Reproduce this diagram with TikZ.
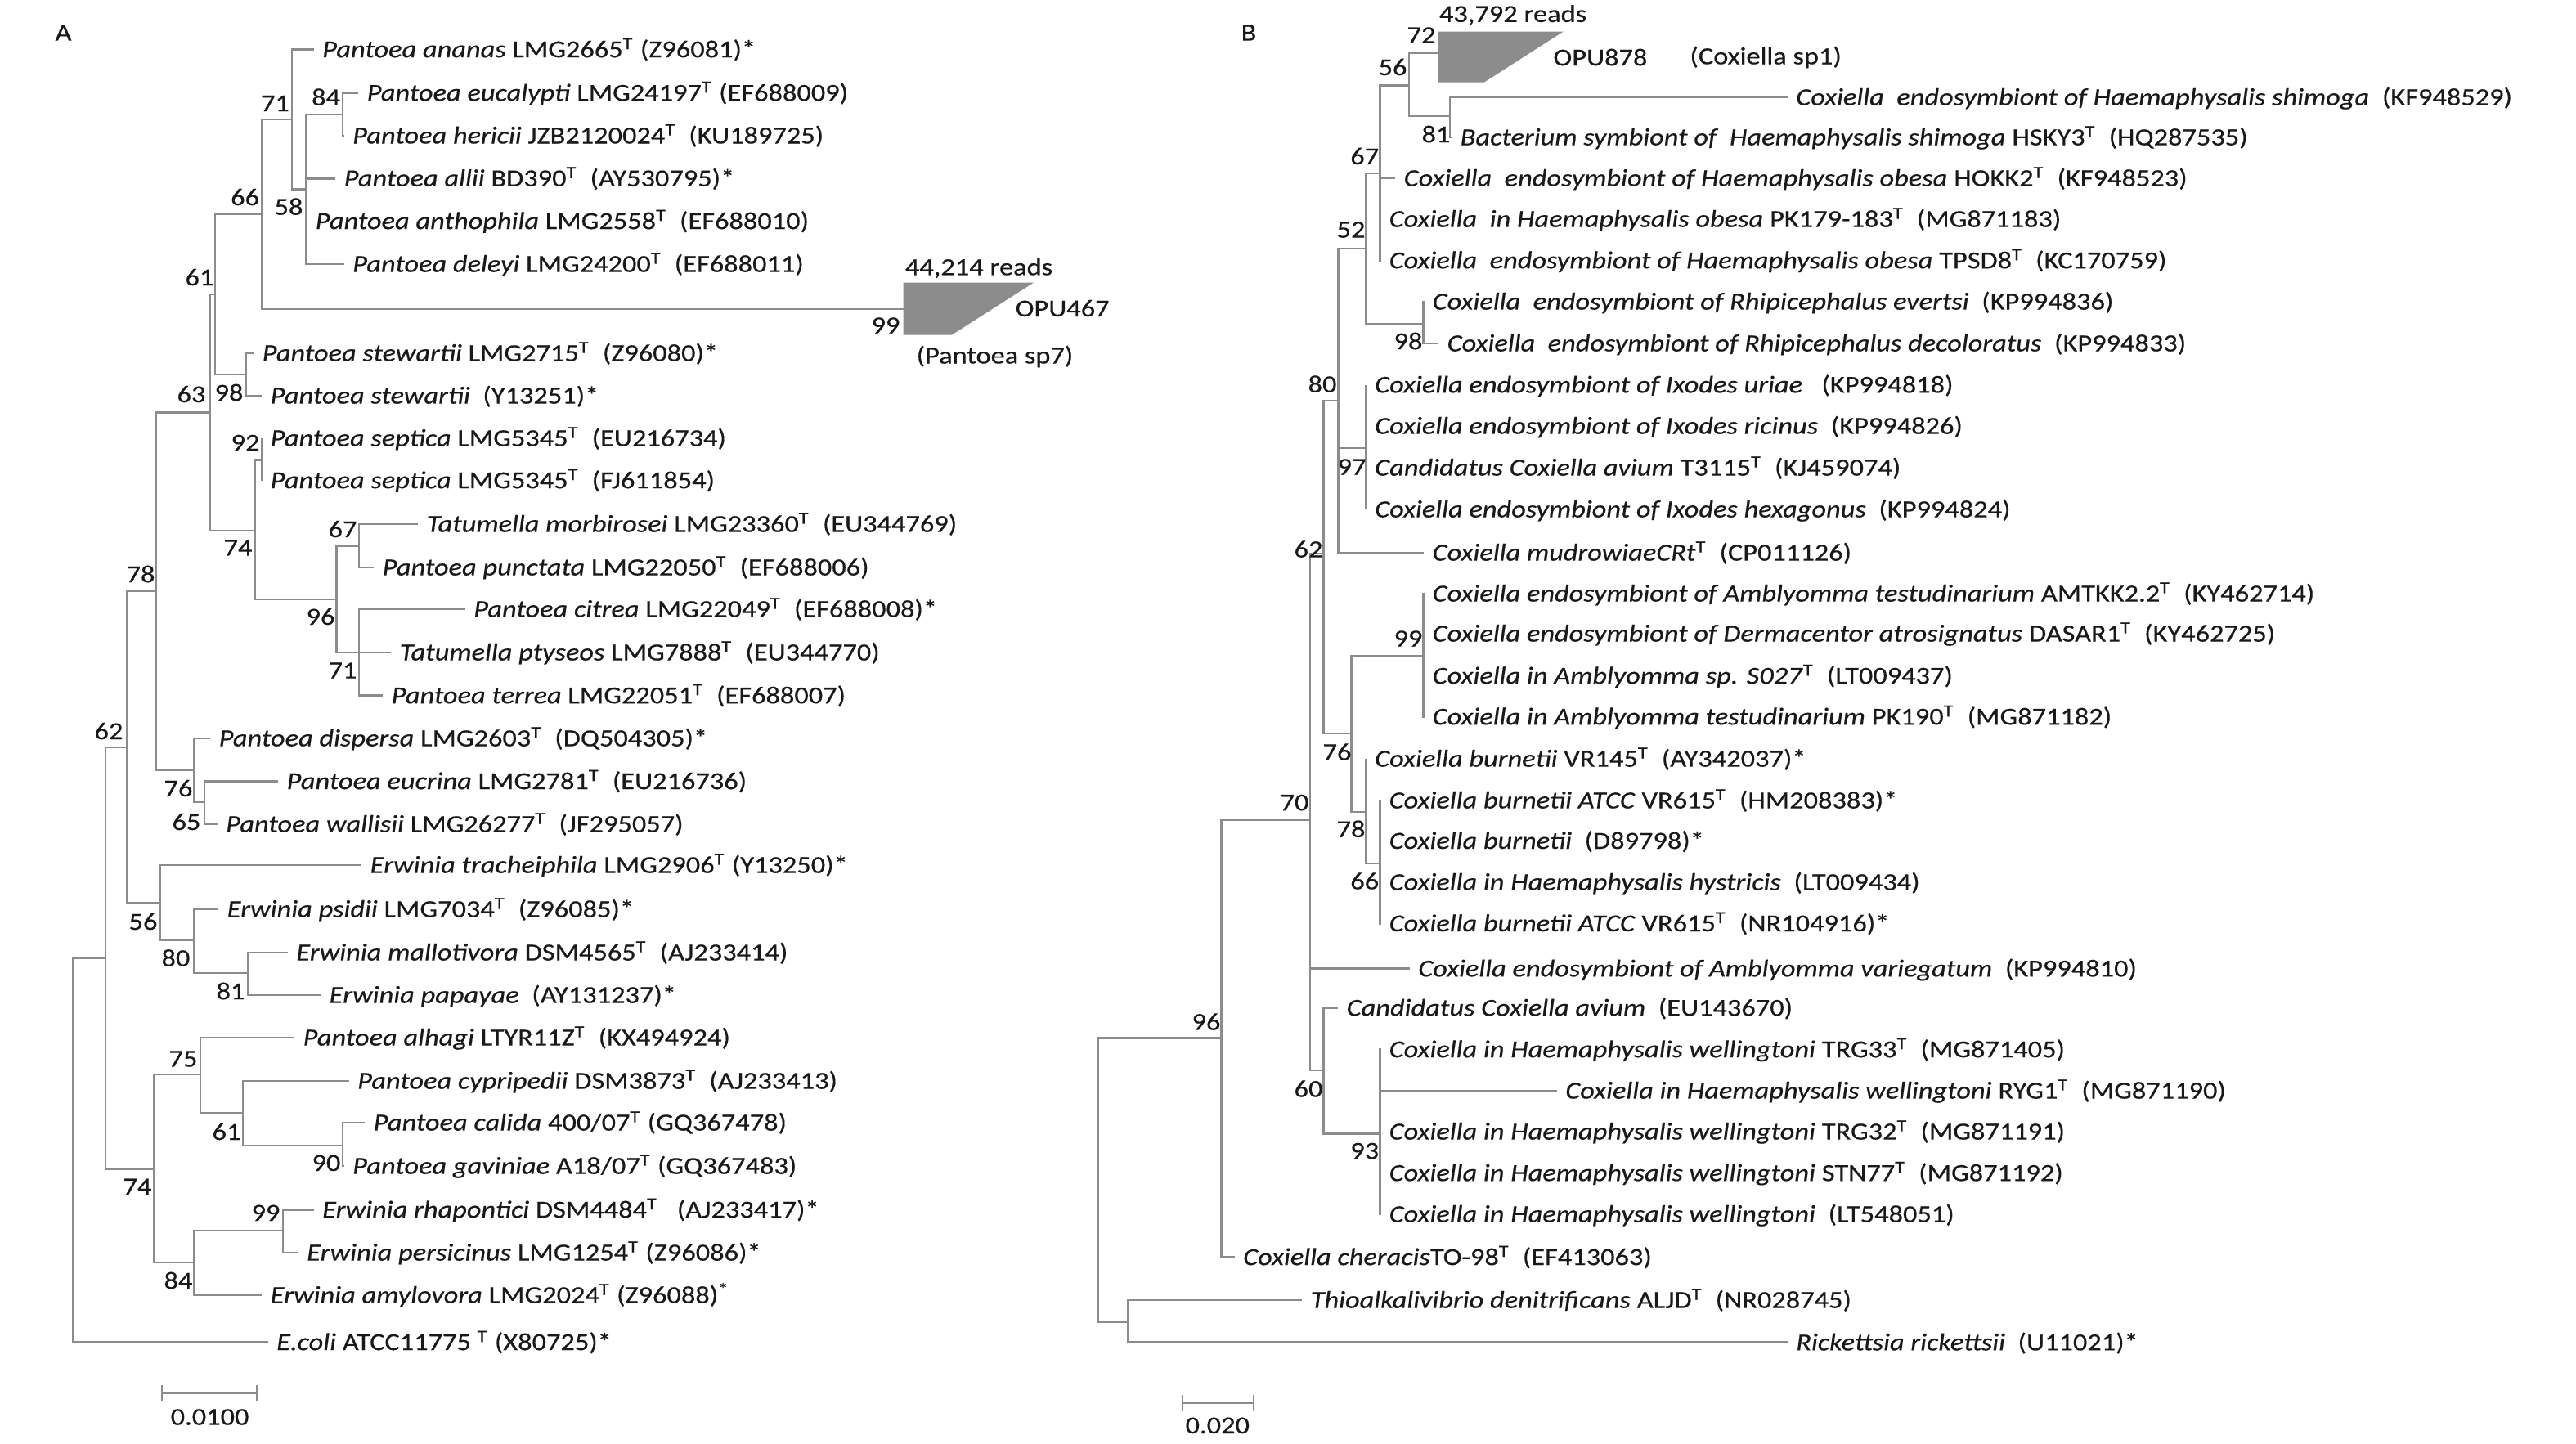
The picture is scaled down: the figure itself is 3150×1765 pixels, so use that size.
\documentclass[tikz,border=0pt]{standalone}
\usepackage{fontspec}
\setmainfont{Carlito}[FakeStretch=1.15,FakeBold=0.4]
\newcommand{\supT}{\textsuperscript{T}}
\definecolor{brc}{RGB}{140,140,140}
\definecolor{txc}{RGB}{25,25,25}
\definecolor{trapc}{RGB}{140,140,140}
\begin{document}
\begin{tikzpicture}[x=0.01cm,y=-0.01cm,
  br/.style={draw=brc, line width=0.8pt},
  lf/.style={anchor=base west, inner sep=0pt, xshift=0.1cm, yshift=-0.096cm, text=txc},
  bs/.style={inner sep=0pt, text=txc},
  every node/.append style={font=\fontsize{8.5pt}{10pt}\selectfont}]
\useasboundingbox (0,0) rectangle (3150,1765);

% ---------------- Panel A ----------------
\node[bs] (labA) at (77.5,40) {A};
\coordinate (rA) at (89,1400);
\coordinate (aX) at (129,1171.6);
\coordinate (a62) at (155,914);
\coordinate (a74b) at (188,1430);
\coordinate (a78) at (191,723);
\coordinate (a56) at (196,1104);
\coordinate (a63) at (257,504.4);
\coordinate (a76) at (237,942);
\coordinate (a61) at (263,360);
\coordinate (a74) at (312,649);
\coordinate (a66) at (320,262);
\coordinate (a98) at (301,458);
\coordinate (a71) at (357,146);
\coordinate (a58) at (374.5,231.5);
\coordinate (a84) at (419,140);
\coordinate (a92) at (320,562.6);
\coordinate (a96) at (411.5,733);
\coordinate (a67) at (439,668);
\coordinate (a71b) at (439,798);
\coordinate (a65) at (250,981);
\coordinate (a80) at (237,1150);
\coordinate (a81) at (303,1190);
\coordinate (a75) at (245,1314);
\coordinate (a61b) at (297,1361);
\coordinate (a90) at (419,1401);
\coordinate (a84b) at (237,1544);
\coordinate (a99) at (346,1505);
\coordinate (opuA) at (1104.6,378);

\coordinate (la0) at (383.5,60.5);
\coordinate (la1) at (438,113.7);
\coordinate (la2) at (420.5,165.9);
\coordinate (la3) at (410,218.2);
\coordinate (la4) at (375,270.5);
\coordinate (la5) at (420.5,323);
\coordinate (la7) at (310,432);
\coordinate (la8) at (320,484);
\coordinate (la9) at (320,536);
\coordinate (la10) at (320,587.5);
\coordinate (la11) at (511,641);
\coordinate (la12) at (457,694);
\coordinate (la13) at (568.5,745);
\coordinate (la14) at (478,798);
\coordinate (la15) at (468,850.6);
\coordinate (la16) at (257,903);
\coordinate (la17) at (340,955.5);
\coordinate (la18) at (265.5,1008);
\coordinate (la19) at (442,1058);
\coordinate (la20) at (267,1112);
\coordinate (la21) at (351.6,1165);
\coordinate (la22) at (392,1217);
\coordinate (la23) at (360,1269);
\coordinate (la24) at (426.5,1322);
\coordinate (la25) at (446,1373);
\coordinate (la26) at (420.5,1426);
\coordinate (la27) at (383.5,1479.5);
\coordinate (la28) at (364.5,1532);
\coordinate (la29) at (320,1584);
\coordinate (la30) at (327.5,1641.5);

\foreach \p/\c in {rA/aX, rA/la30, aX/a62, aX/a74b, a62/a78, a62/a56,
  a78/a63, a78/a76, a63/a61, a63/a74, a61/a66, a61/a98, a66/a71, a66/opuA,
  a71/la0, a71/a58, a58/a84, a58/la3, a58/la4, a58/la5, a84/la1, a84/la2,
  a98/la7, a98/la8, a74/a92, a74/a96, a92/la9, a92/la10, a96/a67, a96/a71b,
  a67/la11, a67/la12, a71b/la13, a71b/la14, a71b/la15, a76/la16, a76/a65,
  a65/la17, a65/la18, a56/la19, a56/a80, a80/la20, a80/a81, a81/la21, a81/la22,
  a74b/a75, a74b/a84b, a75/la23, a75/a61b, a61b/la24, a61b/a90, a90/la25, a90/la26,
  a84b/a99, a84b/la29, a99/la27, a99/la28}
  \draw[br] (\p) |- (\c);

\fill[trapc] (1104.6,345.6) -- (1264,345.6) -- (1164,409.5) -- (1104.6,409.5) -- cycle;
\node[bs] (readsA) at (1197,328) {44,214 reads};
\node[bs, anchor=west] (opuAt) at (1241,377) {OPU467};
\node[bs] (spA) at (1216.5,436) {(Pantoea sp7)};
\node[bs] (sA99) at (1083,398) {99};

\node[lf] (ta0) at (la0) {\textit{Pantoea ananas} LMG2665\supT{} (Z96081)*};
\node[lf] (ta1) at (la1) {\textit{Pantoea eucalypti} LMG24197\supT{} (EF688009)};
\node[lf] (ta2) at (la2) {\textit{Pantoea hericii} JZB2120024\supT\ \ (KU189725)};
\node[lf] (ta3) at (la3) {\textit{Pantoea allii} BD390\supT\ \ (AY530795)*};
\node[lf] (ta4) at (la4) {\textit{Pantoea anthophila} LMG2558\supT\ \ (EF688010)};
\node[lf] (ta5) at (la5) {\textit{Pantoea deleyi} LMG24200\supT\ \ (EF688011)};
\node[lf] (ta7) at (la7) {\textit{Pantoea stewartii} LMG2715\supT\ \ (Z96080)*};
\node[lf] (ta8) at (la8) {\textit{Pantoea stewartii}\ \ (Y13251)*};
\node[lf] (ta9) at (la9) {\textit{Pantoea septica} LMG5345\supT\ \ (EU216734)};
\node[lf] (ta10) at (la10) {\textit{Pantoea septica} LMG5345\supT\ \ (FJ611854)};
\node[lf] (ta11) at (la11) {\textit{Tatumella morbirosei} LMG23360\supT\ \ (EU344769)};
\node[lf] (ta12) at (la12) {\textit{Pantoea punctata} LMG22050\supT\ \ (EF688006)};
\node[lf] (ta13) at (la13) {\textit{Pantoea citrea} LMG22049\supT\ \ (EF688008)*};
\node[lf] (ta14) at (la14) {\textit{Tatumella ptyseos} LMG7888\supT\ \ (EU344770)};
\node[lf] (ta15) at (la15) {\textit{Pantoea terrea} LMG22051\supT\ \ (EF688007)};
\node[lf] (ta16) at (la16) {\textit{Pantoea dispersa} LMG2603\supT\ \ (DQ504305)*};
\node[lf] (ta17) at (la17) {\textit{Pantoea eucrina} LMG2781\supT\ \ (EU216736)};
\node[lf] (ta18) at (la18) {\textit{Pantoea wallisii} LMG26277\supT\ \ (JF295057)};
\node[lf] (ta19) at (la19) {\textit{Erwinia tracheiphila} LMG2906\supT{} (Y13250)*};
\node[lf] (ta20) at (la20) {\textit{Erwinia psidii} LMG7034\supT\ \ (Z96085)*};
\node[lf] (ta21) at (la21) {\textit{Erwinia mallotivora} DSM4565\supT\ \ (AJ233414)};
\node[lf] (ta22) at (la22) {\textit{Erwinia papayae}\ \ (AY131237)*};
\node[lf] (ta23) at (la23) {\textit{Pantoea alhagi} LTYR11Z\supT\ \ (KX494924)};
\node[lf] (ta24) at (la24) {\textit{Pantoea cypripedii} DSM3873\supT\ \ (AJ233413)};
\node[lf] (ta25) at (la25) {\textit{Pantoea calida} 400/07\supT{} (GQ367478)};
\node[lf] (ta26) at (la26) {\textit{Pantoea gaviniae} A18/07\supT{} (GQ367483)};
\node[lf] (ta27) at (la27) {\textit{Erwinia rhapontici} DSM4484\supT\ \ \ (AJ233417)*};
\node[lf] (ta28) at (la28) {\textit{Erwinia persicinus} LMG1254\supT{} (Z96086)*};
\node[lf] (ta29) at (la29) {\textit{Erwinia amylovora} LMG2024\supT{} (Z96088)\textsuperscript{*}};
\node[lf] (ta30) at (la30) {\textit{E.coli} ATCC11775 \supT{} (X80725)*};

\node[bs] (sa71) at (336.5,126.5) {71};
\node[bs] (sa84) at (398.6,118.6) {84};
\node[bs] (sa58) at (353,252.6) {58};
\node[bs] (sa66) at (299.6,241) {66};
\node[bs] (sa61) at (244,339) {61};
\node[bs] (sa98) at (280,480) {98};
\node[bs] (sa63) at (234,482) {63};
\node[bs] (sa92) at (300,541.5) {92};
\node[bs] (sa74) at (291,670) {74};
\node[bs] (sa78) at (172,702) {78};
\node[bs] (sa96) at (392,754) {96};
\node[bs] (sa67) at (419,647) {67};
\node[bs] (sa71b) at (419,820) {71};
\node[bs] (sa62) at (133,894) {62};
\node[bs] (sa76) at (218,964) {76};
\node[bs] (sa65) at (228,1005) {65};
\node[bs] (sa56) at (175,1127) {56};
\node[bs] (sa80) at (215,1171.5) {80};
\node[bs] (sa81) at (282,1212) {81};
\node[bs] (sa75) at (224,1295) {75};
\node[bs] (sa61b) at (277,1384) {61};
\node[bs] (sa90) at (399,1422.4) {90};
\node[bs] (sa74b) at (168,1451.3) {74};
\node[bs] (sa99) at (325,1483.3) {99};
\node[bs] (sa84b) at (218,1566) {84};

\coordinate (scA1) at (198,1704);
\coordinate (scA2) at (314,1704);
\draw[br] (scA1) -- (scA2);
\draw[br] ([yshift=-0.1cm]scA1) -- ([yshift=0.1cm]scA1);
\draw[br] ([yshift=-0.1cm]scA2) -- ([yshift=0.1cm]scA2);
\node[bs] (scAt) at (256.6,1733) {0.0100};

% ---------------- Panel B ----------------
\node[bs] (labB) at (1527,40) {B};
\coordinate (rB) at (1342.5,1443);
\coordinate (b96) at (1493.5,1269.4);
\coordinate (bTR) at (1379.6,1616.5);
\coordinate (b70) at (1602,1003);
\coordinate (b62) at (1618.6,677);
\coordinate (b60) at (1618.6,1309);
\coordinate (b80) at (1636.3,490);
\coordinate (b76) at (1652.8,897);
\coordinate (b52) at (1670.5,304);
\coordinate (b97) at (1670.5,548);
\coordinate (b67) at (1687.6,212);
\coordinate (b56) at (1723,104.5);
\coordinate (b81) at (1773,142);
\coordinate (b98) at (1740.7,396);
\coordinate (b99) at (1740.7,802.5);
\coordinate (b78) at (1670.5,993);
\coordinate (b66) at (1687.6,1056);
\coordinate (b93) at (1687.6,1386.8);
\coordinate (opuB) at (1758.4,65);

\coordinate (lb1) at (2185.6,119);
\coordinate (lb2) at (1775,168);
\coordinate (lb3) at (1706,218);
\coordinate (lb4) at (1688,268);
\coordinate (lb5) at (1688,318.6);
\coordinate (lb6) at (1741,369);
\coordinate (lb7) at (1759,420);
\coordinate (lb8) at (1670.5,470.7);
\coordinate (lb9) at (1670.5,521);
\coordinate (lb10) at (1670.5,572);
\coordinate (lb11) at (1670.5,623);
\coordinate (lb12) at (1741,676);
\coordinate (lb13) at (1741,726);
\coordinate (lb14) at (1741,775);
\coordinate (lb15) at (1741,826.6);
\coordinate (lb16) at (1741,876.6);
\coordinate (lb17) at (1670.5,928);
\coordinate (lb18) at (1688,979);
\coordinate (lb19) at (1688,1028.4);
\coordinate (lb20) at (1688,1079);
\coordinate (lb21) at (1688,1129.4);
\coordinate (lb22) at (1723.6,1184.7);
\coordinate (lb23) at (1636,1232.7);
\coordinate (lb24) at (1688,1283.5);
\coordinate (lb25) at (1903.6,1334);
\coordinate (lb26) at (1688,1384);
\coordinate (lb27) at (1688,1434.7);
\coordinate (lb28) at (1688,1485);
\coordinate (lb29) at (1509.5,1537.5);
\coordinate (lb30) at (1592,1590);
\coordinate (lb31) at (2185.6,1641.8);

\foreach \p/\c in {rB/b96, rB/bTR, bTR/lb30, bTR/lb31, b96/b70, b96/lb29,
  b70/b62, b70/lb22, b70/b60, b62/b80, b62/b76, b80/b52, b80/b97, b80/lb12,
  b52/b67, b52/b98, b67/b56, b67/lb3, b67/lb4, b67/lb5, b56/opuB, b56/b81,
  b81/lb1, b81/lb2, b98/lb6, b98/lb7, b97/lb8, b97/lb9, b97/lb10, b97/lb11,
  b76/b99, b76/b78, b99/lb13, b99/lb14, b99/lb15, b99/lb16, b78/lb17, b78/b66,
  b66/lb18, b66/lb19, b66/lb20, b66/lb21, b60/lb23, b60/b93,
  b93/lb24, b93/lb25, b93/lb26, b93/lb27, b93/lb28}
  \draw[br] (\p) |- (\c);

\fill[trapc] (1758.4,38.5) -- (1911.8,38.5) -- (1815,100.5) -- (1758.4,100.5) -- cycle;
\node[bs] (readsB) at (1850,18.4) {43,792 reads};
\node[bs, anchor=west] (opuBt) at (1898.8,70) {OPU878};
\node[bs, anchor=west] (spB) at (2065.8,70) {(Coxiella sp1)};

\node[lf] (tb1) at (lb1) {\textit{Coxiella\ \ endosymbiont of Haemaphysalis shimoga}\ \ (KF948529)};
\node[lf] (tb2) at (lb2) {\textit{Bacterium symbiont of\ \ Haemaphysalis shimoga} HSKY3\supT\ \ (HQ287535)};
\node[lf] (tb3) at (lb3) {\textit{Coxiella\ \ endosymbiont of Haemaphysalis obesa} HOKK2\supT\ \ (KF948523)};
\node[lf] (tb4) at (lb4) {\textit{Coxiella\ \ in Haemaphysalis obesa} PK179-183\supT\ \ (MG871183)};
\node[lf] (tb5) at (lb5) {\textit{Coxiella\ \ endosymbiont of Haemaphysalis obesa} TPSD8\supT\ \ (KC170759)};
\node[lf] (tb6) at (lb6) {\textit{Coxiella\ \ endosymbiont of Rhipicephalus evertsi}\ \ (KP994836)};
\node[lf] (tb7) at (lb7) {\textit{Coxiella\ \ endosymbiont of Rhipicephalus decoloratus}\ \ (KP994833)};
\node[lf] (tb8) at (lb8) {\textit{Coxiella endosymbiont of Ixodes uriae}\ \ \ (KP994818)};
\node[lf] (tb9) at (lb9) {\textit{Coxiella endosymbiont of Ixodes ricinus}\ \ (KP994826)};
\node[lf] (tb10) at (lb10) {\textit{Candidatus Coxiella avium} T3115\supT\ \ (KJ459074)};
\node[lf] (tb11) at (lb11) {\textit{Coxiella endosymbiont of Ixodes hexagonus}\ \ (KP994824)};
\node[lf] (tb12) at (lb12) {\textit{Coxiella mudrowiaeCRt}\supT\ \ (CP011126)};
\node[lf] (tb13) at (lb13) {\textit{Coxiella endosymbiont of Amblyomma testudinarium} AMTKK2.2\supT\ \ (KY462714)};
\node[lf] (tb14) at (lb14) {\textit{Coxiella endosymbiont of Dermacentor atrosignatus} DASAR1\supT\ \ (KY462725)};
\node[lf] (tb15) at (lb15) {\textit{Coxiella in Amblyomma sp. S027}\supT\ \ (LT009437)};
\node[lf] (tb16) at (lb16) {\textit{Coxiella in Amblyomma testudinarium} PK190\supT\ \ (MG871182)};
\node[lf] (tb17) at (lb17) {\textit{Coxiella burnetii} VR145\supT\ \ (AY342037)*};
\node[lf] (tb18) at (lb18) {\textit{Coxiella burnetii ATCC} VR615\supT\ \ (HM208383)*};
\node[lf] (tb19) at (lb19) {\textit{Coxiella burnetii}\ \ (D89798)*};
\node[lf] (tb20) at (lb20) {\textit{Coxiella in Haemaphysalis hystricis}\ \ (LT009434)};
\node[lf] (tb21) at (lb21) {\textit{Coxiella burnetii ATCC} VR615\supT\ \ (NR104916)*};
\node[lf] (tb22) at (lb22) {\textit{Coxiella endosymbiont of Amblyomma variegatum}\ \ (KP994810)};
\node[lf] (tb23) at (lb23) {\textit{Candidatus Coxiella avium}\ \ (EU143670)};
\node[lf] (tb24) at (lb24) {\textit{Coxiella in Haemaphysalis wellingtoni} TRG33\supT\ \ (MG871405)};
\node[lf] (tb25) at (lb25) {\textit{Coxiella in Haemaphysalis wellingtoni} RYG1\supT\ \ (MG871190)};
\node[lf] (tb26) at (lb26) {\textit{Coxiella in Haemaphysalis wellingtoni} TRG32\supT\ \ (MG871191)};
\node[lf] (tb27) at (lb27) {\textit{Coxiella in Haemaphysalis wellingtoni} STN77\supT\ \ (MG871192)};
\node[lf] (tb28) at (lb28) {\textit{Coxiella in Haemaphysalis wellingtoni}\ \ (LT548051)};
\node[lf] (tb29) at (lb29) {\textit{Coxiella cheracis}TO-98\supT\ \ (EF413063)};
\node[lf] (tb30) at (lb30) {\textit{Thioalkalivibrio denitrificans} ALJD\supT\ \ (NR028745)};
\node[lf] (tb31) at (lb31) {\textit{Rickettsia rickettsii}\ \ (U11021)*};

\node[bs] (sb72) at (1738,43) {72};
\node[bs] (sb56) at (1703,82) {56};
\node[bs] (sb81) at (1756,164) {81};
\node[bs] (sb67) at (1668.7,191) {67};
\node[bs] (sb52) at (1652,281) {52};
\node[bs] (sb98) at (1722,417) {98};
\node[bs] (sb80) at (1617,469.6) {80};
\node[bs] (sb97) at (1653,571) {97};
\node[bs] (sb62) at (1600,671.6) {62};
\node[bs] (sb99) at (1722,781) {99};
\node[bs] (sb76) at (1635,919.5) {76};
\node[bs] (sb78) at (1652,1013.7) {78};
\node[bs] (sb66) at (1668.7,1077.5) {66};
\node[bs] (sb70) at (1583,981.6) {70};
\node[bs] (sb60) at (1600,1331.5) {60};
\node[bs] (sb93) at (1668.7,1407.6) {93};
\node[bs] (sb96) at (1475,1249.6) {96};

\coordinate (scB1) at (1446,1716);
\coordinate (scB2) at (1533,1716);
\draw[br] (scB1) -- (scB2);
\draw[br] ([yshift=-0.1cm]scB1) -- ([yshift=0.1cm]scB1);
\draw[br] ([yshift=-0.1cm]scB2) -- ([yshift=0.1cm]scB2);
\node[bs] (scBt) at (1488.8,1743.4) {0.020};
\end{tikzpicture}
\end{document}
